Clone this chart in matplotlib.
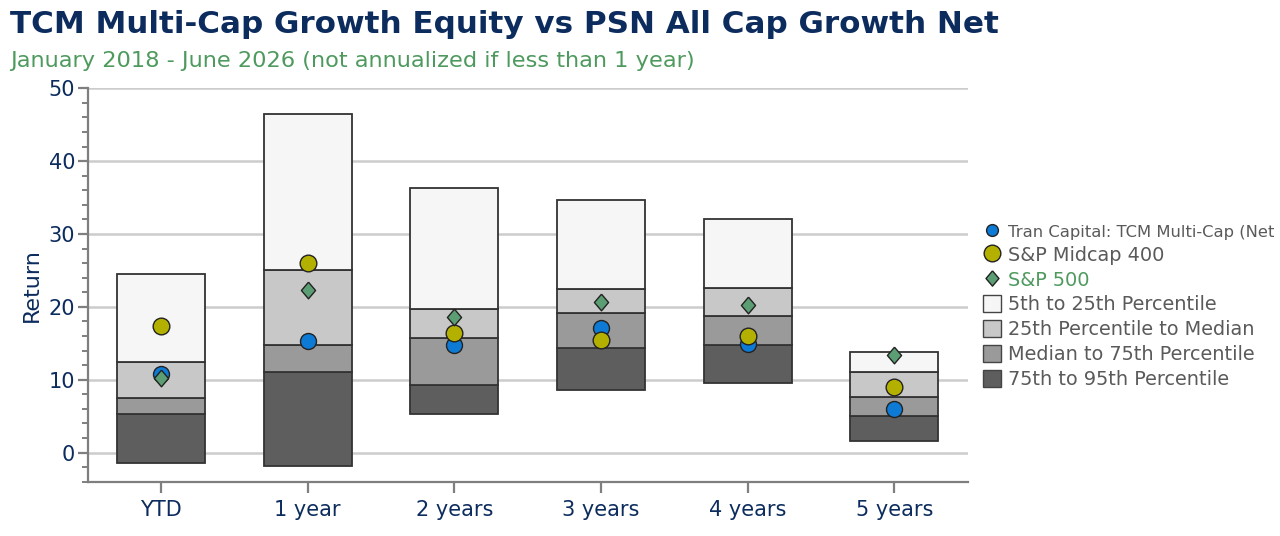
import matplotlib
matplotlib.use("Agg")
import matplotlib.pyplot as plt
from matplotlib.lines import Line2D
from matplotlib.patches import Patch
import numpy as np

plt.rcParams['font.family'] = ['DejaVu Sans']

categories = ["YTD", "1 year", "2 years", "3 years", "4 years", "5 years"]
p5 = [24.5, 46.5, 36.25, 34.65, 32.0, 13.8]
p25 = [12.45, 25.1, 19.7, 22.4, 22.6, 11.07]
p50 = [7.55, 14.8, 15.75, 19.2, 18.7, 7.65]
p75 = [5.35, 11.0, 9.25, 14.4, 14.8, 5.0]
p95 = [-1.43, -1.84, 5.26, 8.65, 9.6, 1.55]
tcm = [10.85, 15.3, 14.75, 17.1, 14.85, 6.0]
midcap = [17.35, 25.95, 16.35, 15.4, 16.0, 9.0]
sp500 = [10.25, 22.3, 18.6, 20.6, 20.3, 13.35]

series_names = ["Tran Capital: TCM Multi-Cap (Net", "S&P Midcap 400", "S&P 500"]
band_names = ["5th to 25th Percentile", "25th Percentile to Median",
              "Median to 75th Percentile", "75th to 95th Percentile"]

navy = "#0c2c5e"
green_txt = "#4e9a5e"
gray_txt = "#5a5a5a"
band_colors = ["#f6f6f6", "#c8c8c8", "#9a9a9a", "#5e5e5e"]
edge = "#333333"
c_tcm = "#0d7bd6"
c_mid = "#b4b000"
c_sp = "#5c9e74"
diamond = [(0, 1), (0.85, 0), (0, -1), (-0.85, 0), (0, 1)]

fig = plt.figure(figsize=(12.8, 5.36), dpi=100)
ax = fig.add_axes([0.0685, 0.1013, 0.6875, 0.734])

x = np.arange(len(categories))
w = 0.6
p5a, p25a, p50a, p75a, p95a = map(np.array, (p5, p25, p50, p75, p95))
ax.bar(x, p75a - p95a, bottom=p95a, width=w, color=band_colors[3], edgecolor=edge, linewidth=1.3, zorder=2)
ax.bar(x, p50a - p75a, bottom=p75a, width=w, color=band_colors[2], edgecolor=edge, linewidth=1.3, zorder=2)
ax.bar(x, p25a - p50a, bottom=p50a, width=w, color=band_colors[1], edgecolor=edge, linewidth=1.3, zorder=2)
ax.bar(x, p5a - p25a, bottom=p25a, width=w, color=band_colors[0], edgecolor=edge, linewidth=1.3, zorder=2)

ax.plot(x, tcm, 'o', ms=11.5, color=c_tcm, mec="#222222", mew=1.0, zorder=4, linestyle='none')
ax.plot(x, midcap, 'o', ms=12, color=c_mid, mec="#222222", mew=1.0, zorder=5, linestyle='none')
ax.plot(x, sp500, marker=diamond, ms=12, color=c_sp, mec="#222222", mew=1.0, zorder=6, linestyle='none')

ax.set_xlim(-0.5, len(categories) - 0.5)
ax.set_ylim(-4, 50)
ax.set_yticks(np.arange(0, 51, 10))
ax.set_yticks(np.arange(-4, 51, 2), minor=True)
ax.set_xticks(x)
ax.set_xticklabels(categories)
ax.grid(axis='y', which='major', color="#cccccc", linewidth=1.8, zorder=0)
ax.set_axisbelow(True)

for s in ["top", "right"]:
    ax.spines[s].set_visible(False)
for s in ["left", "bottom"]:
    ax.spines[s].set_color("#7f7f7f")
    ax.spines[s].set_linewidth(1.6)

ax.tick_params(axis='y', which='major', length=7, width=1.6, color="#7f7f7f",
               labelsize=15, labelcolor=navy, pad=2)
ax.tick_params(axis='y', which='minor', length=4, width=1.4, color="#7f7f7f")
ax.tick_params(axis='x', which='major', length=8, width=1.6, color="#7f7f7f",
               labelsize=15, labelcolor=navy, pad=5)
ax.set_ylabel("Return", fontsize=16, color=navy, labelpad=5)

fig.text(0.008, 0.955, "TCM Multi-Cap Growth Equity vs PSN All Cap Growth Net",
         fontsize=22.3, fontweight='bold', color=navy, va='center', ha='left')
fig.text(0.008, 0.887, "January 2018 - June 2026 (not annualized if less than 1 year)",
         fontsize=16.2, color=green_txt, va='center', ha='left')

handles = [
    Line2D([], [], marker='o', ls='none', ms=8.5, color=c_tcm, mec="#222222", mew=1.0),
    Line2D([], [], marker='o', ls='none', ms=12, color=c_mid, mec="#222222", mew=1.0),
    Line2D([], [], marker=diamond, ls='none', ms=11, color=c_sp, mec="#222222", mew=1.0),
]
for c in band_colors:
    handles.append(Patch(facecolor=c, edgecolor="#444444", linewidth=1.0))
labels = series_names + band_names
leg = fig.legend(handles, labels, loc='upper left', bbox_to_anchor=(0.762, 0.6),
                 frameon=False, fontsize=13.9, handlelength=0.95, handleheight=0.95,
                 handletextpad=0.33, labelspacing=0.3, borderaxespad=0)
for t in leg.get_texts():
    t.set_color(gray_txt)
leg.get_texts()[0].set_fontsize(11.8)
leg.get_texts()[2].set_color(green_txt)

fig.savefig("out.png", dpi=100)
